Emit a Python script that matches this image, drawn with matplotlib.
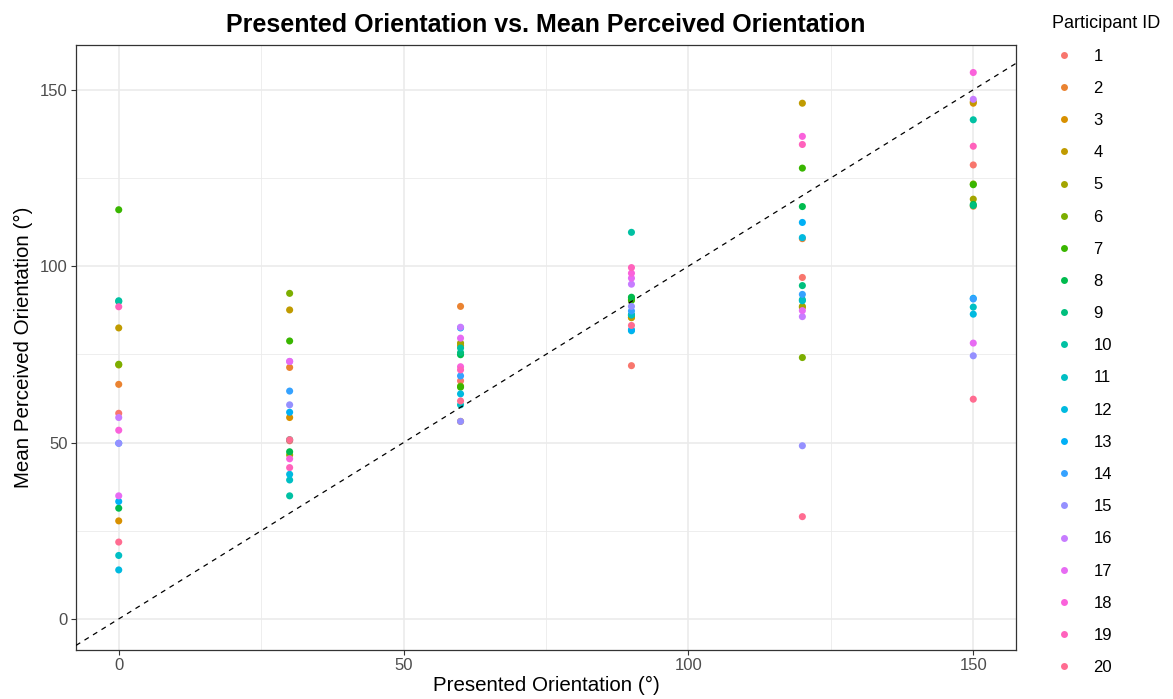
import matplotlib
matplotlib.use("Agg")
import matplotlib.pyplot as plt
from matplotlib.lines import Line2D
import numpy as np

plt.rcParams['font.family'] = ['Liberation Sans', 'DejaVu Sans']

# Presented orientations (degrees)
orientations = [0, 30, 60, 90, 120, 150]
participants = list(range(1, 21))

# Mean perceived orientation per participant, one value per presented orientation
p01 = [58.3, 50.5, 67.5, 71.8, 96.8, 128.7]
p02 = [66.5, 71.3, 88.6, 86.0, 107.8, 117.0]
p03 = [27.8, 57.1, 56.0, 85.5, 88.3, 146.2]
p04 = [82.5, 87.6, 77.5, 85.4, 146.2, 146.6]
p05 = [72.0, 46.5, 78.2, 90.5, 88.6, 119.0]
p06 = [72.2, 92.3, 66.0, 91.0, 74.1, 123.3]
p07 = [116.0, 78.8, 65.7, 90.3, 127.8, 123.1]
p08 = [31.4, 47.4, 74.9, 91.2, 116.9, 117.5]
p09 = [90.0, 50.8, 75.5, 86.2, 94.5, 117.2]
p10 = [90.2, 34.9, 76.8, 109.6, 90.5, 141.5]
p11 = [18.0, 39.4, 60.7, 86.2, 90.2, 88.4]
p12 = [13.9, 41.0, 63.8, 81.7, 108.1, 86.4]
p13 = [33.3, 58.6, 82.5, 82.0, 112.4, 90.9]
p14 = [49.8, 64.6, 68.9, 87.3, 92.0, 90.7]
p15 = [49.8, 60.7, 56.0, 88.6, 49.1, 74.6]
p16 = [57.1, 73.0, 82.7, 94.9, 85.7, 147.3]
p17 = [34.9, 73.0, 79.6, 96.6, 87.4, 78.2]
p18 = [53.5, 45.4, 71.5, 98.0, 136.8, 154.9]
p19 = [88.5, 42.9, 70.6, 99.6, 134.5, 134.0]
p20 = [21.8, 50.8, 61.8, 83.2, 29.0, 62.3]

values = [p01, p02, p03, p04, p05, p06, p07, p08, p09, p10,
          p11, p12, p13, p14, p15, p16, p17, p18, p19, p20]

# Evenly spaced HCL hues (l=65, c=100)
palette = ["#F8766D", "#EA8331", "#D89000", "#C09B00", "#A3A500",
           "#7CAE00", "#39B600", "#00BB4E", "#00BF7D", "#00C1A3",
           "#00BFC4", "#00BAE0", "#00B0F6", "#35A2FF", "#9590FF",
           "#C77CFF", "#E76BF3", "#FA62DB", "#FF62BC", "#FF6C91"]

fig = plt.figure(figsize=(11.73, 6.99), dpi=100)
ax = fig.add_axes([76 / 1173, 1 - 650 / 699, (1016 - 76) / 1173, (650 - 45) / 699])

xlim = (-7.5, 157.5)
ylim = (-8.8, 162.7)

# gridlines
for v in [25, 75, 125]:
    ax.axvline(v, color='#EBEBEB', lw=0.6, zorder=0)
    ax.axhline(v, color='#EBEBEB', lw=0.6, zorder=0)
for v in [0, 50, 100, 150]:
    ax.axvline(v, color='#EBEBEB', lw=1.2, zorder=0)
    ax.axhline(v, color='#EBEBEB', lw=1.2, zorder=0)

for pid, vals, col in zip(participants, values, palette):
    ax.scatter(orientations, vals, s=26, color=col, edgecolors='none', zorder=3)

# identity line
ax.axline((0, 0), slope=1, color='black', lw=0.9, ls=(0, (4, 4)), zorder=4)

ax.set_xlim(*xlim)
ax.set_ylim(*ylim)
ax.set_xticks([0, 50, 100, 150])
ax.set_yticks([0, 50, 100, 150])
ax.tick_params(axis='both', colors='#333333', labelcolor='#4D4D4D',
               labelsize=12, length=3.5, width=0.8, pad=2.5)
for sp in ax.spines.values():
    sp.set_color('#333333')
    sp.set_linewidth(0.9)

ax.set_xlabel("Presented Orientation (°)", fontsize=14.8, labelpad=2)
ax.set_ylabel("Mean Perceived Orientation (°)", fontsize=14.8, labelpad=5)
ax.set_title("Presented Orientation vs. Mean Perceived Orientation",
             fontsize=18, fontweight='bold', pad=9)

handles = [Line2D([0], [0], marker='o', ls='none', markersize=5,
                  markerfacecolor=c, markeredgecolor='none') for c in palette]
leg = fig.legend(handles, [str(p) for p in participants],
                 title="Participant ID", loc='upper left',
                 bbox_to_anchor=(1045 / 1173, 1 - 8 / 699),
                 frameon=False, fontsize=12, title_fontsize=13,
                 labelspacing=1.03, handletextpad=1.0, handlelength=1.5,
                 borderaxespad=0)
leg._legend_box.align = "left"

fig.savefig("out.png", dpi=100)
